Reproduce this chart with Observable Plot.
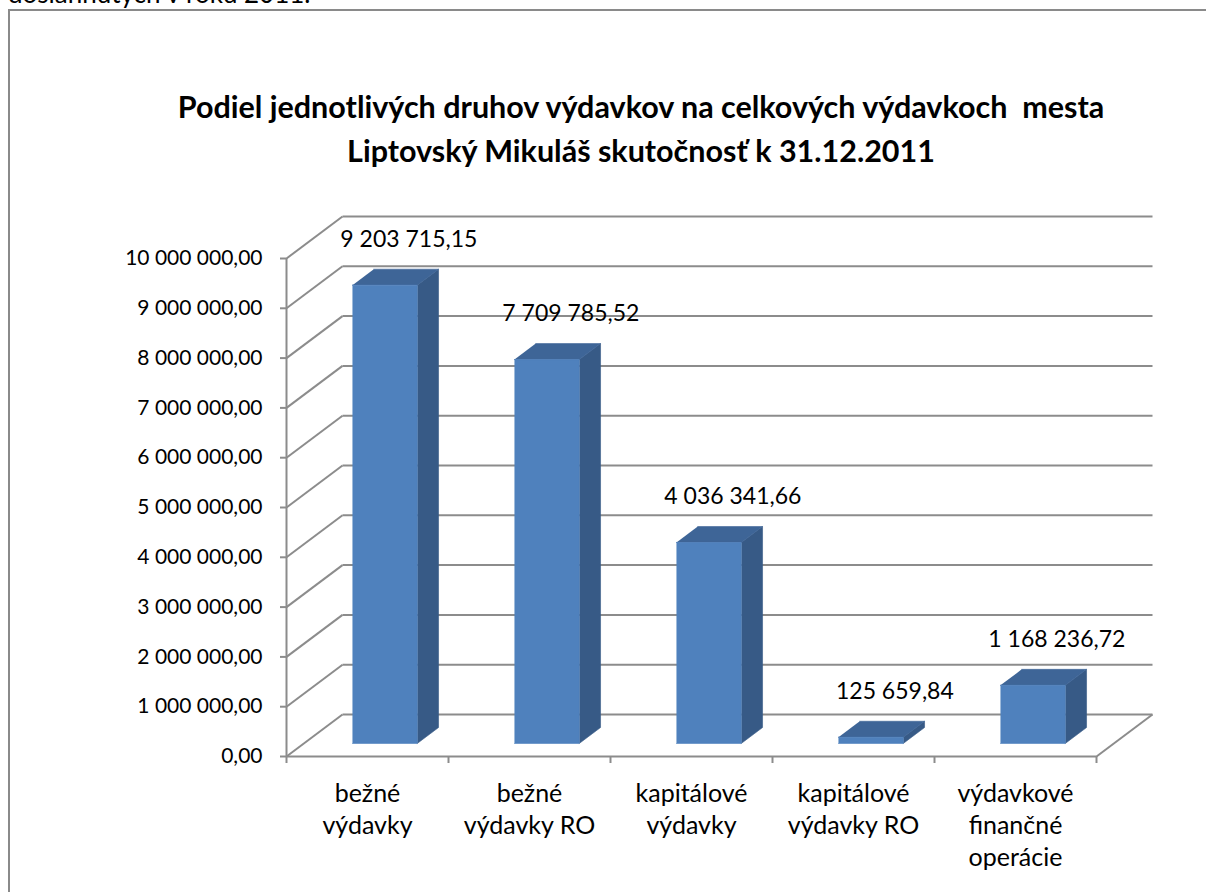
<!DOCTYPE html>
<html><head><meta charset="utf-8">
<script src="https://cdn.jsdelivr.net/npm/d3@7"></script>
<script src="https://cdn.jsdelivr.net/npm/@observablehq/plot@0.6"></script>
<style>
html,body{margin:0;padding:0;background:#fff;overflow:hidden;width:1206px;height:892px}
#wrap{position:relative;width:1206px;height:892px;overflow:hidden;font-family:Lato,"Noto Sans",sans-serif;color:#000}
#frame{position:absolute;left:8px;top:9px;width:1400px;height:1000px;border-left:2.5px solid #8a8a8a;border-top:2.5px solid #8a8a8a}
#head{position:absolute;left:8px;top:-20px;font-size:26px;line-height:26px;white-space:nowrap}
#title{position:absolute;left:76px;width:1130px;top:84px;text-align:center;font-weight:bold;font-size:30.5px;line-height:44px}
#chart{position:absolute;left:0;top:0}
</style></head>
<body><div id="wrap">
<div id="frame"></div>
<div id="head">dosiahnutých v roku 2011.</div>
<div id="chart"></div>
<div id="title">Podiel jednotlivých druhov výdavkov na celkových výdavkoch&nbsp; mesta<br>Liptovský Mikuláš skutočnosť k 31.12.2011</div>
</div>
<script>
// ---- data ----
const categories = ["bežné\nvýdavky", "bežné\nvýdavky RO", "kapitálové\nvýdavky", "kapitálové\nvýdavky RO", "výdavkové\nfinančné\noperácie"];
const values = [9203715.15, 7709785.52, 4036341.66, 125659.84, 1168236.72];
const yTicks = [0, 1000000, 2000000, 3000000, 4000000, 5000000, 6000000, 7000000, 8000000, 9000000, 10000000];

// ---- layout / style ----
const W = 1206, H = 892, mL = 286, mR = 110, mT = 258, mB = 136;
const yMax = 10000000;
const depthPx = [56, -42];           // 3D depth vector in pixels
const kx = categories.length / (W - mL - mR);
const ky = yMax / (H - mT - mB);
const DX = depthPx[0] * kx, DY = -depthPx[1] * ky;
const P = (x, v, d) => ({x: x + d * DX, y: v + d * DY});
const half = 0.2, d0 = 0.31, d1 = 0.69;
const gridColor = "#8c8c8c";
const colFront = "#4f81bd", colSide = "#375a86", colTop = "#3e6597";

const loc = d3.formatLocale({decimal: ",", thousands: " ", grouping: [3], currency: ["", ""]});
const fmt = loc.format(",.2f");

// walls
const segs = [];
yTicks.forEach(v => {
  const a = P(0, v, 1), b = P(categories.length, v, 1);
  segs.push({x1: a.x, y1: a.y, x2: b.x, y2: b.y});
  const c = P(0, v, 0);
  segs.push({x1: c.x, y1: c.y, x2: a.x, y2: a.y});
});
{ const a = P(categories.length, 0, 0), b = P(categories.length, 0, 1);
  segs.push({x1: a.x, y1: a.y, x2: b.x, y2: b.y}); }

// bars
const faces = {side: [], top: [], front: []};
values.forEach((v, i) => {
  const c = i + 0.5, l = c - half, r = c + half;
  const add = (name, pts) => pts.forEach(p => faces[name].push({...p, id: i}));
  add("side", [P(r, 0, d0), P(r, 0, d1), P(r, v, d1), P(r, v, d0)]);
  add("top", [P(l, v, d0), P(r, v, d0), P(r, v, d1), P(l, v, d1)]);
  add("front", [P(l, 0, d0), P(r, 0, d0), P(r, v, d0), P(l, v, d0)]);
});
const labels = values.map((v, i) => ({...P(i + 0.5, v, d0), t: fmt(v)}));
const cats = categories.map((t, i) => ({x: i + 0.5, t}));

const face = (data, color) => Plot.line(data, {x: "x", y: "y", z: "id", fill: color, stroke: color, strokeWidth: 0.6});

const chart = Plot.plot({
  width: W, height: H,
  marginLeft: mL, marginRight: mR, marginTop: mT, marginBottom: mB,
  style: {fontFamily: "Lato, 'Noto Sans', sans-serif", background: "transparent", overflow: "visible"},
  x: {type: "linear", domain: [0, categories.length]},
  y: {type: "linear", domain: [0, yMax]},
  marks: [
    Plot.link(segs, {x1: "x1", y1: "y1", x2: "x2", y2: "y2", stroke: gridColor, strokeWidth: 2}),
    Plot.ruleX([0], {y1: 0, y2: yMax, stroke: gridColor, strokeWidth: 2}),
    Plot.ruleY([0], {x1: 0, x2: categories.length, stroke: gridColor, strokeWidth: 2}),
    Plot.axisY(yTicks, {tickSize: 6, tickPadding: 18, tickFormat: fmt, fontSize: 21, label: null, stroke: gridColor, strokeWidth: 2, fill: "black"}),
    Plot.axisX([0, 1, 2, 3, 4, 5], {tickSize: 7, tickFormat: () => "", label: null, stroke: gridColor, strokeWidth: 2}),
    face(faces.side, colSide),
    face(faces.top, colTop),
    face(faces.front, colFront),
    Plot.text(labels, {x: "x", y: "y", text: "t", dx: 24, dy: -46, fontSize: 23, fill: "black"}),
    Plot.text(cats, {x: "x", y: 0, text: "t", dy: 23, lineAnchor: "top", lineHeight: 1.28, fontSize: 25, fill: "black"})
  ]
});
document.getElementById("chart").appendChild(chart);
</script>
</body></html>
